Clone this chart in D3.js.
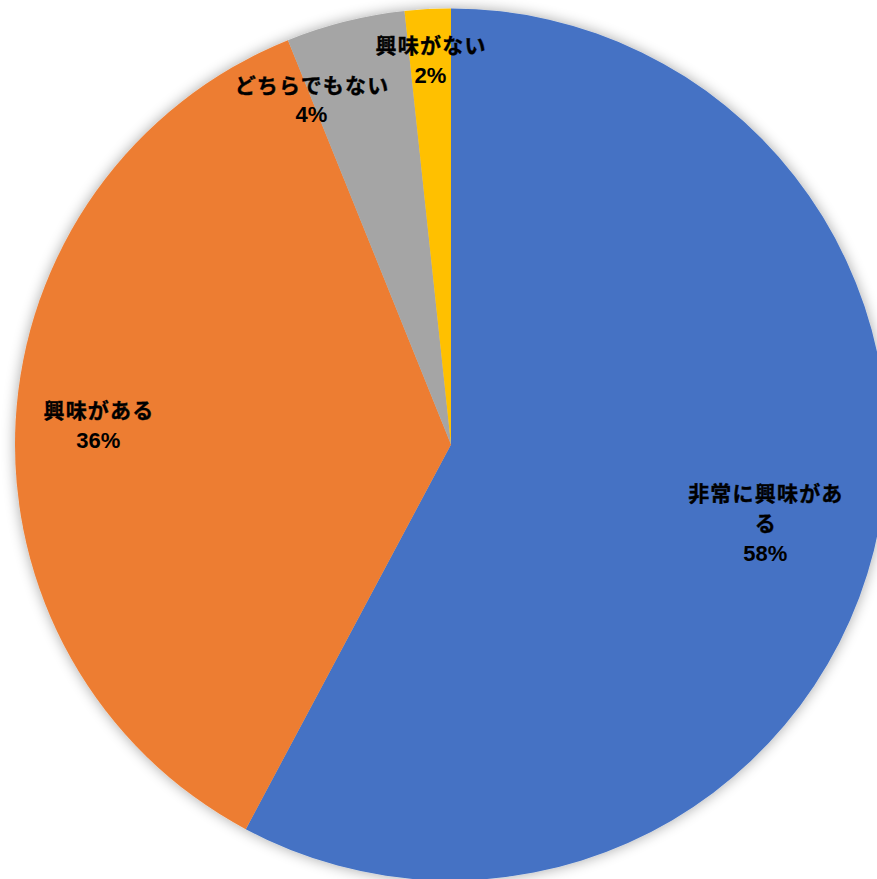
<!DOCTYPE html>
<html><head><meta charset="utf-8">
<script src="https://cdn.jsdelivr.net/npm/d3@7"></script>
<style>html,body{margin:0;padding:0;background:#fff;overflow:hidden}</style>
</head><body>
<svg id="c" width="877" height="879"></svg>
<script>
const categories = ["非常に興味がある", "興味がある", "どちらでもない", "興味がない"];
const values = [57.8, 36.1, 4.4, 1.7];
const colors = ["#4472C4", "#ED7D31", "#A5A5A5", "#FFC000"];

const W = 877, H = 879, cx = 451, cy = 444.5, R = 436;
const svg = d3.select("#c");
const defs = svg.append("defs");
const f = defs.append("filter").attr("id","sh").attr("x","-20%").attr("y","-20%").attr("width","140%").attr("height","140%");
f.append("feGaussianBlur").attr("in","SourceAlpha").attr("stdDeviation",7).attr("result","b");
f.append("feComponentTransfer").attr("in","b").attr("result","t")
  .append("feFuncA").attr("type","linear").attr("slope",0.35);
const m = f.append("feMerge"); m.append("feMergeNode").attr("in","t"); m.append("feMergeNode").attr("in","SourceGraphic");

const g = svg.append("g").attr("transform",`translate(${cx},${cy})`);
const pie = d3.pie().sort(null).value(d=>d)(values);
const arc = d3.arc().innerRadius(0).outerRadius(R);
const slices = g.append("g").attr("filter","url(#sh)");
slices.selectAll("path").data(pie).join("path")
  .attr("d", arc).attr("fill",(d,i)=>colors[i]);

const pct = d3.format(".0%");
const total = d3.sum(values);
const labelK = [0.743, 0.81, 0.853, 0.882];
const labelShift = [0, 0, -8, 0];
const lineH = 29.5;
const maxW = 175;
const jpFont = "'Noto Sans CJK JP','Noto Sans',sans-serif";
const numFont = "'Liberation Sans',Arial,sans-serif";
const labels = g.append("g").attr("font-weight","bold").attr("fill","#000").attr("text-anchor","middle");

function styleJP(sel){ return sel.attr("font-family",jpFont).attr("font-size",21).style("letter-spacing","1.2px")
  .attr("stroke","#000").attr("stroke-width",0.35); }

pie.forEach((d,i)=>{
  const a = (d.startAngle + d.endAngle)/2 + labelShift[i]*Math.PI/180;
  const rr = R*labelK[i];
  const x = Math.sin(a)*rr, y = -Math.cos(a)*rr;
  const t = labels.append("text");
  const lines = [];
  let cur = "";
  const probe = styleJP(labels.append("text"));
  for (const ch of categories[i]) {
    probe.text(cur+ch);
    if (probe.node().getComputedTextLength() > maxW && cur) { lines.push(cur); cur = ch; }
    else cur += ch;
  }
  probe.remove();
  lines.push(cur);
  const n = lines.length + 1;
  lines.forEach((s,j)=>{
    styleJP(t.append("tspan")).attr("x",x + 0.6).attr("y", y + (j-(n-1)/2)*lineH).attr("dy","0.36em").text(s);
  });
  t.append("tspan").attr("font-family",numFont).attr("font-size",22)
    .attr("x",x).attr("y", y + (n-1-(n-1)/2)*lineH).attr("dy","0.36em").text(pct(values[i]/total));
});
</script>
</body></html>
